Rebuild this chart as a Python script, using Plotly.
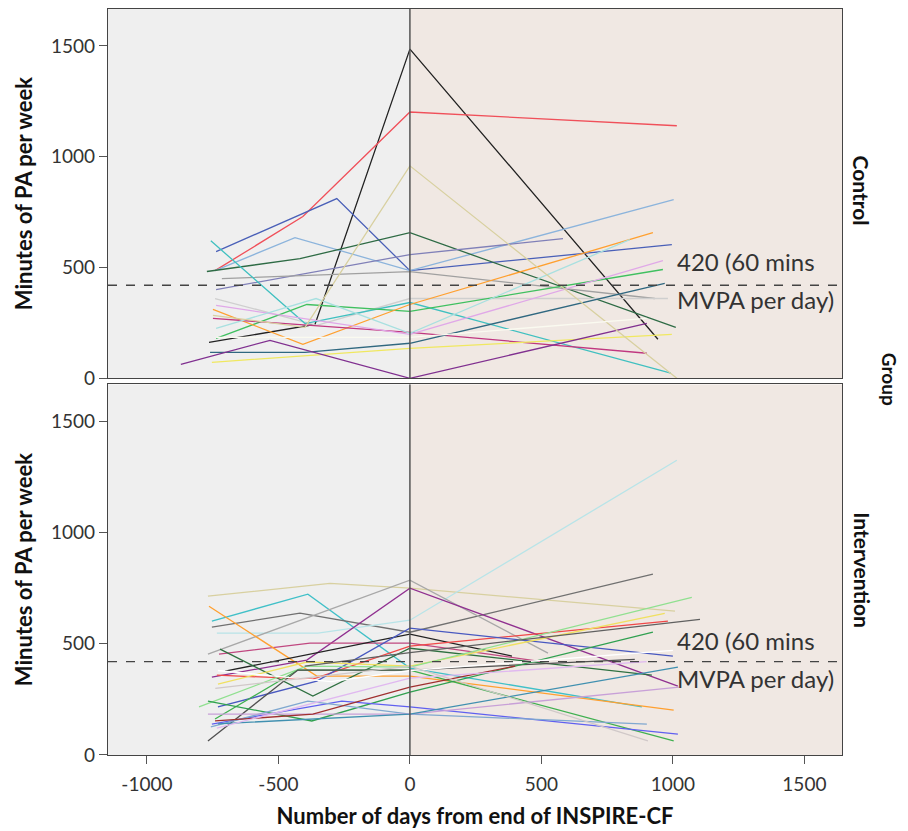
import plotly.graph_objects as go
from plotly.subplots import make_subplots

# ---------------- data ----------------
ctrl_days = [
    [-764, -361, 0, 943],
    [-741, -407, 0, 1015],
    [-737, -278, 0, 996],
    [-741, -437, 0, 1003],
    [-772, -418, 0, 1011],
    [-737, 0, 582],
    [-715, 0, 931],
    [-741, -354, 0, 981],
    [-757, -399, 0, 992],
    [-737, -392, 0, 962],
    [-749, -407, 0, 924],
    [-749, 0, 901],
    [-737, 0, 962],
    [-737, -357, 0, 836],
    [-760, -399, 0, 969],
    [-753, 0, 996],
    [-871, -532, 0, 901],
    [-749, -399, 0, 1015],
    [-737, 0, 900],
]
ctrl_mins = [
    [162, 243, 1486, 176],
    [486, 730, 1202, 1140],
    [572, 811, 486, 603],
    [486, 635, 486, 806],
    [482, 540, 657, 230],
    [400, 558, 630],
    [450, 481, 360],
    [360, 239, 360, 360],
    [621, 247, 342, 23],
    [180, 333, 302, 491],
    [311, 153, 333, 657],
    [270, 207, 113],
    [329, 198, 531],
    [225, 360, 203, 626],
    [117, 117, 158, 428],
    [72, 135, 198],
    [63, 171, 0, 248],
    [284, 230, 959, 0],
    [185, 185, 270],
]
ctrl_colors = ["#222222", "#F0505A", "#4A60B8", "#8CB4DC", "#2E6B45", "#8080B8",
               "#A0A0A0", "#CFCFCF", "#40C0C0", "#40C060", "#FFA030", "#C03880",
               "#E0A8E8", "#A8E0E0", "#306880", "#F0E860", "#803090", "#D8D0A0",
               "#FAFAF0"]

int_days = [
    [-768, -304, 0, 1008],
    [-753, -388, 0, 882],
    [-753, -418, 0, 924],
    [-734, -350, 0, 1015],
    [-768, 0, 525],
    [-753, -392, 0, 1019],
    [-726, -380, 0, 500],
    [-764, -354, 0, 1003],
    [-703, 0, 388],
    [-722, -369, 0, 920],
    [-734, -369, 0, 981],
    [-730, -354, 0, 1000],
    [-730, -392, 0, 969],
    [-802, -392, 0, 1072],
    [-741, -426, 0, 1003],
    [-768, -426, 0, 855],
    [-768, -373, 0, 924],
    [-753, -259, 0, 1019],
    [-757, -388, 0, 901],
    [-768, 0, 1023],
    [-741, -369, 0, 400],
    [-730, 0, 1019],
    [-734, 0, 900],
    [-400, 0, 1103],
    [-730, -300, 0, 1000],
    [-740, 0, 905],
]
int_mins = [
    [714, 772, 750, 647],
    [602, 723, 391, 216],
    [575, 638, 552, 813],
    [548, 548, 606, 1325],
    [454, 786, 458],
    [350, 427, 750, 310],
    [454, 503, 503, 420],
    [669, 355, 355, 202],
    [377, 543, 445],
    [476, 265, 480, 359],
    [359, 341, 490, 602],
    [216, 332, 570, 445],
    [319, 418, 400, 637],
    [216, 400, 395, 709],
    [162, 382, 382, 63],
    [63, 382, 382, 430],
    [242, 153, 283, 552],
    [139, 242, 216, 94],
    [126, 242, 184, 139],
    [184, 184, 305],
    [153, 184, 305, 400],
    [140, 184, 395],
    [121, 346, 420],
    [400, 460, 610],
    [380, 330, 380, 470],
    [300, 400, 63],
]
int_colors = ["#D8D0A0", "#40C0C8", "#707070", "#B8E4E8", "#A8A8A8", "#903090",
              "#C04880", "#FFA030", "#222222", "#2E7040", "#F04848", "#4858C0",
              "#F0E060", "#90E090", "#40B050", "#505050", "#30A050", "#6060F0",
              "#80A8D0", "#C8A0D8", "#A03030", "#4090B0", "#E0B8F0", "#606060",
              "#FFFFFF", "#D0C8C8"]

x_ticks = [-1000, -500, 0, 500, 1000, 1500]
x_tick_labels = ["-1000", "-500", "0", "500", "1000", "1500"]
y_ticks = [0, 500, 1000, 1500]
threshold = 420
panel_names = ["Control", "Intervention"]

# ---------------- figure ----------------
X_RANGE = [-1148, 1643]
Y_RANGE = [0, 1667]
FONT = "Lato, 'Open Sans', sans-serif"

fig = make_subplots(rows=2, cols=1, shared_xaxes=False, vertical_spacing=0.008)

for row, (days, mins, cols) in enumerate(
        [(ctrl_days, ctrl_mins, ctrl_colors), (int_days, int_mins, int_colors)], start=1):
    for xs, ys, c in zip(days, mins, cols):
        fig.add_trace(go.Scatter(x=xs, y=ys, mode="lines",
                                 line=dict(color=c, width=1.3),
                                 showlegend=False, hoverinfo="skip"),
                      row=row, col=1)

fig.update_layout(
    width=900, height=823,
    margin=dict(l=100, r=66, t=1, b=76),
    paper_bgcolor="white", plot_bgcolor="white",
    font=dict(family=FONT, color="#333333"),
    showlegend=False,
)

fig.update_layout(
    yaxis=dict(domain=[0.505, 1.0]),
    yaxis2=dict(domain=[0.0, 0.497]),
)

axis_common = dict(showgrid=False, zeroline=False, showline=True, mirror=True,
                   linecolor="#444444", linewidth=1.4)
for r in (1, 2):
    fig.update_xaxes(range=X_RANGE, tickvals=x_ticks, ticktext=x_tick_labels,
                     row=r, col=1, **axis_common)
    fig.update_yaxes(range=Y_RANGE, tickvals=y_ticks, row=r, col=1,
                     ticks="outside", ticklen=8, tickcolor="#555555", tickwidth=1.2,
                     tickfont=dict(size=19, color="#333333", family=FONT),
                     title=dict(text="<b>Minutes of PA per week</b>",
                                font=dict(size=22, color="#111111", family=FONT),
                                standoff=12),
                     **axis_common)
fig.update_xaxes(showticklabels=False, ticks="", row=1, col=1)
fig.update_xaxes(ticks="outside", ticklen=8, tickcolor="#555555", tickwidth=1.2,
                 ticklabelstandoff=4,
                 tickfont=dict(size=19, color="#333333", family=FONT),
                 title=dict(text="<b>Number of days from end of INSPIRE-CF</b>",
                            font=dict(size=22, color="#111111", family=FONT),
                            standoff=14),
                 row=2, col=1)

shapes = []
for xr, yr in (("x", "y"), ("x2", "y2")):
    shapes.append(dict(type="rect", xref=xr, yref=yr, x0=X_RANGE[0], x1=0,
                       y0=Y_RANGE[0], y1=Y_RANGE[1], fillcolor="#EFEFEF",
                       line=dict(width=0), layer="below"))
    shapes.append(dict(type="rect", xref=xr, yref=yr, x0=0, x1=X_RANGE[1],
                       y0=Y_RANGE[0], y1=Y_RANGE[1], fillcolor="#F0E8E3",
                       line=dict(width=0), layer="below"))
    shapes.append(dict(type="line", xref=xr, yref=yr, x0=X_RANGE[0], x1=X_RANGE[1],
                       y0=threshold, y1=threshold,
                       line=dict(color="#444444", width=1.3, dash="dash")))
    shapes.append(dict(type="line", xref=xr, yref=yr, x0=0, x1=0,
                       y0=Y_RANGE[0], y1=Y_RANGE[1],
                       line=dict(color="#555555", width=1.5)))
fig.update_layout(shapes=shapes)

annotations = []
for xr, yr, ytop, ybot in (("x", "y", 525, 357), ("x2", "y2", 515, 343)):
    annotations.append(dict(xref=xr, yref=yr, x=1007, y=ytop, text="420 (60 mins",
                            showarrow=False, xanchor="left", yanchor="middle",
                            font=dict(size=24, color="#333333", family=FONT)))
    annotations.append(dict(xref=xr, yref=yr, x=1007, y=ybot, text="MVPA per day)",
                            showarrow=False, xanchor="left", yanchor="middle",
                            font=dict(size=24, color="#333333", family=FONT)))

annotations.append(dict(xref="paper", yref="paper", x=1.027, y=0.757,
                        text="<b>" + panel_names[0] + "</b>", showarrow=False,
                        textangle=90, xanchor="center", yanchor="middle",
                        font=dict(size=21, color="#111111", family=FONT)))
annotations.append(dict(xref="paper", yref="paper", x=1.027, y=0.248,
                        text="<b>" + panel_names[1] + "</b>", showarrow=False,
                        textangle=90, xanchor="center", yanchor="middle",
                        font=dict(size=21, color="#111111", family=FONT)))
annotations.append(dict(xref="paper", yref="paper", x=1.064, y=0.503,
                        text="<b>Group</b>", showarrow=False,
                        textangle=90, xanchor="center", yanchor="middle",
                        font=dict(size=19, color="#111111", family=FONT)))
fig.update_layout(annotations=annotations)

fig.write_html("out.html")
